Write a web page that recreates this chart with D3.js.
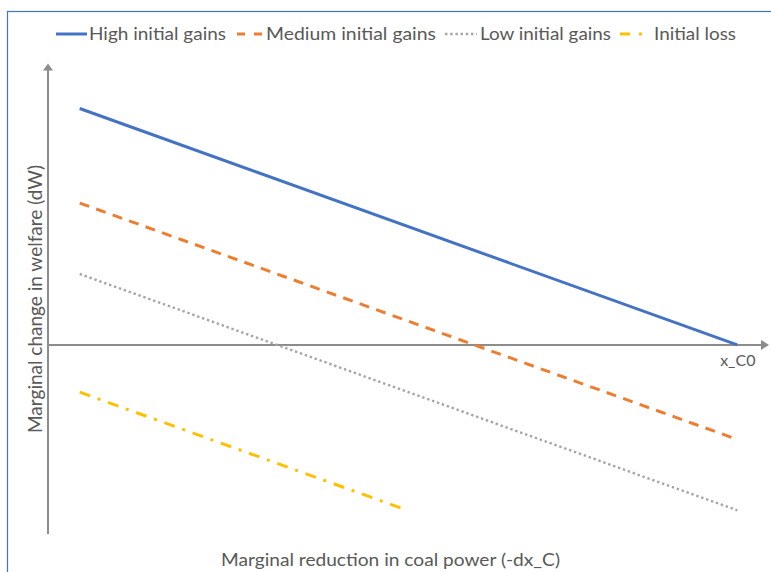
<!DOCTYPE html>
<html>
<head>
<meta charset="utf-8">
<script src="https://cdn.jsdelivr.net/npm/d3@7"></script>
<style>
  html, body { margin: 0; padding: 0; background: #fff; }
  svg { display: block; }
  text { font-family: Lato, "Open Sans", sans-serif; fill: #595959; }
</style>
</head>
<body>
<svg id="chart" width="771" height="572"></svg>
<script>
// ---- data ----
const categories = ["High initial gains", "Medium initial gains", "Low initial gains", "Initial loss"];
const xStart = [0.46, 0.46, 0.46, 0.46];
const xEnd   = [10, 10, 10, 5.12];
const yStart = [10, 6, 3, -2];
const yEnd   = [0, -4, -7, -6.9];
const xTickValues = [10];
const xTickLabels = ["x_C0"];
const xAxisTitle = "Marginal reduction in coal power (-dx_C)";
const yAxisTitle = "Marginal change in welfare (dW)";

// ---- styles ----
const colors = ["#4472c4", "#ed7d31", "#a5a5a5", "#ffc000"];
const dashes = [null, "10,7.5", "2.4,2.8", "11,8,3,8"];
const widths = [3, 3, 2.4, 3];
const axisColor = "#8c8c8c";

const svg = d3.select("#chart");

// outer frame
svg.append("rect").attr("x", 7.5).attr("y", 11.5).attr("width", 900).attr("height", 700)
  .attr("fill", "none").attr("stroke", "#4472c4").attr("stroke-width", 1.2);

const x = d3.scaleLinear().domain([0, 10.46]).range([48, 769]);
const y = d3.scaleLinear().domain([-8, 11.9]).range([534, 63.6]);

// axes
const gx = svg.append("g").attr("transform", `translate(0,${y(0)})`)
  .call(d3.axisBottom(x).tickValues(xTickValues).tickFormat((d, i) => xTickLabels[i])
        .tickSize(0).tickPadding(9).tickSizeOuter(0));
gx.select(".domain").remove();
gx.selectAll(".tick text").attr("font-size", 16).attr("fill", "#404040")
  .style("font-family", "Lato, 'Open Sans', sans-serif").attr("dy", "0.75em");

// x axis line + arrow
svg.append("line").attr("x1", x(0)).attr("x2", x(10.46) - 6).attr("y1", y(0)).attr("y2", y(0))
  .attr("stroke", axisColor).attr("stroke-width", 2);
svg.append("path")
  .attr("d", `M${x(10.46)},${y(0)} L${x(10.46) - 8},${y(0) - 5} L${x(10.46) - 8},${y(0) + 5} Z`)
  .attr("fill", axisColor);

// y axis line + arrow
svg.append("line").attr("x1", x(0)).attr("x2", x(0)).attr("y1", y(-8)).attr("y2", y(11.9) + 6)
  .attr("stroke", axisColor).attr("stroke-width", 2);
svg.append("path")
  .attr("d", `M${x(0)},${y(11.9)} L${x(0) - 5},${y(11.9) + 7} L${x(0) + 5},${y(11.9) + 7} Z`)
  .attr("fill", axisColor);

// series lines
const line = d3.line().x(d => x(d[0])).y(d => y(d[1]));
categories.forEach((c, i) => {
  svg.append("path")
    .datum([[xStart[i], yStart[i]], [xEnd[i], yEnd[i]]])
    .attr("d", line)
    .attr("fill", "none")
    .attr("stroke", colors[i])
    .attr("stroke-width", widths[i])
    .attr("stroke-dasharray", dashes[i]);
});

// legend
const legendItems = [
  { x1: 56, x2: 87, tx: 89, tw: 137 },
  { x1: 237, x2: 264, tx: 266, tw: 170 },
  { x1: 445, x2: 477, tx: 480, tw: 131 },
  { x1: 620, x2: 645, tx: 654, tw: 82 }
];
categories.forEach((c, i) => {
  const L = legendItems[i];
  svg.append("line").attr("x1", L.x1).attr("x2", L.x2).attr("y1", 34).attr("y2", 34)
    .attr("stroke", colors[i]).attr("stroke-width", widths[i])
    .attr("stroke-dasharray", i === 1 ? "8,9" : (i === 3 ? "10,9,3,8" : dashes[i]));
  svg.append("text").attr("x", L.tx).attr("y", 40).attr("font-size", 17.5)
    .attr("textLength", L.tw).attr("lengthAdjust", "spacingAndGlyphs").text(c);
});

// axis titles
svg.append("text").attr("x", 390.5).attr("y", 566).attr("text-anchor", "middle")
  .attr("font-size", 18).attr("textLength", 339).attr("lengthAdjust", "spacingAndGlyphs")
  .text(xAxisTitle);
svg.append("text").attr("transform", "translate(42,299) rotate(-90)").attr("text-anchor", "middle")
  .attr("font-size", 18.5).attr("textLength", 268).attr("lengthAdjust", "spacingAndGlyphs")
  .text(yAxisTitle);
</script>
</body>
</html>
